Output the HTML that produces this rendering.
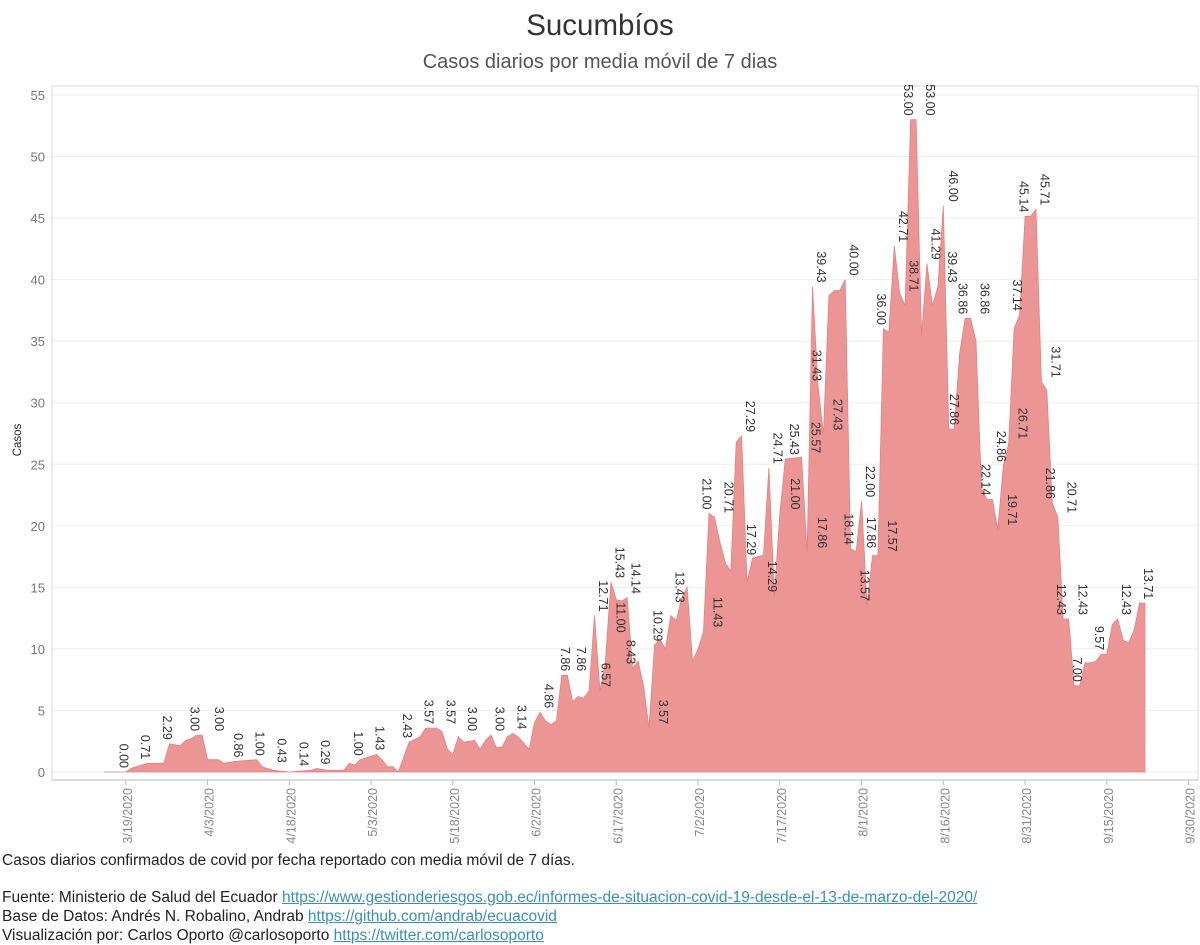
<!DOCTYPE html>
<html><head><meta charset="utf-8"><style>
body{margin:0;width:1200px;height:945px;background:#fff;font-family:"Liberation Sans",sans-serif;overflow:hidden;position:relative}
.t{position:absolute;left:0;width:1200px;text-align:center}
.note{position:absolute;left:2px;font-size:15.5px;color:#222;white-space:nowrap}
.note a{color:#3a8fb7;text-decoration:underline}
</style></head><body>
<div class="t" style="top:9px;font-size:29.5px;color:#333">Sucumbíos</div>
<div class="t" style="top:51px;font-size:20px;color:#555">Casos diarios por media móvil de 7 dias</div>
<svg id="c" width="1200" height="850" style="position:absolute;left:0;top:0"></svg>
<div class="note" style="top:852px">Casos diarios confirmados de covid por fecha reportado con media móvil de 7 días.</div>
<div class="note" style="top:889px">Fuente: Ministerio de Salud del Ecuador <a>https://www.gestionderiesgos.gob.ec/informes-de-situacion-covid-19-desde-el-13-de-marzo-del-2020/</a></div>
<div class="note" style="top:908px">Base de Datos: Andrés N. Robalino, Andrab <a>https://github.com/andrab/ecuacovid</a></div>
<div class="note" style="top:927px">Visualización por: Carlos Oporto @carlosoporto <a>https://twitter.com/carlosoporto</a></div>
<script>
// days since 3/15/2020
const days=[0,4,5,8,11,12,14,15,16,17,18,19,21,22,24,28,29,31,34,38,39,41,44,45,46,47,49,50,51,52,53,54,56,58,59,61,62,63,64,65,66,68,69,70,71,72,73,74,75,76,78,79,80,81,82,83,84,85,86,87,88,89,90,91,92,93,94,95,96,97,98,99,100,101,102,103,104,105,106,107,108,109,110,111,112,113,114,115,116,117,118,119,121,122,123,124,125,128,129,130,131,132,133,134,135,136,137,138,139,140,141,142,143,144,145,146,147,148,149,150,151,152,153,154,155,156,157,158,159,160,161,162,163,164,165,166,167,168,169,170,171,172,173,174,175,176,177,178,179,180,181,182,183,184,185,186,187,188,189,190,191];
const values=[0,0,0.3,0.71,0.71,2.29,2.14,2.57,2.71,3,3,1,1,0.71,0.86,1,0.43,0.14,0,0.14,0.29,0.14,0.14,0.71,0.57,1,1.29,1.43,1,0.43,0.43,0,2.43,2.86,3.57,3.57,3.29,1.86,1.43,2.86,2.43,2.57,1.86,2.57,3,2,2,2.86,3.14,2.86,1.86,4,4.86,4.14,3.86,4.14,7.86,7.86,5.71,6.14,6,6.57,12.71,6.57,9,15.43,14,13.9,14.14,8.43,9,7,3.57,10.29,10.8,10,12.7,12.3,14.14,15,9,10,11.43,21,20.71,18.7,17,16.3,26.8,27.29,15.43,17.4,17.6,24.71,14.29,21,25.43,25.57,17.86,39.43,31.43,27.43,38.7,39.1,39.1,40,18.14,17.9,22,13.57,17.57,17.57,36,35.7,42.71,38.9,37.9,53,53,35.5,41.29,37.9,39.43,46,27.86,27.86,34,36.86,36.86,35,23,22.14,22.14,19.71,24.86,26.71,36,37.14,45.14,45.14,45.71,31.71,31,21.86,20.71,12.43,12.43,7,7,8.86,8.86,9,9.57,9.57,12,12.43,10.7,10.5,11.5,13.71,13.71];
const labelDays=[2,6,10,15,19.5,23,27,31,35,39,45,49,54,58,62,66,71,75,80,83,86,90,90.5,93,93.2,96,95,100,101,104,111,109,113,117,117.2,122,121,125,125.2,129,129.2,130,130.2,133,135,136,141,139,139.2,138,143,145,147,146,150,151,154,154.2,156,154.4,160,160.2,163,165,166,167,167.2,171,173,172,176,174,178,177,181,186,190];
const labelTexts=["0.00","0.71","2.29","3.00","3.00","0.86","1.00","0.43","0.14","0.29","1.00","1.43","2.43","3.57","3.57","3.00","3.00","3.14","4.86","7.86","7.86","12.71","6.57","15.43","11.00","14.14","8.43","10.29","3.57","13.43","11.43","21.00","20.71","27.29","17.29","24.71","14.29","25.43","21.00","25.57","31.43","39.43","17.86","27.43","18.14","40.00","36.00","22.00","17.86","13.57","17.57","42.71","38.71","53.00","53.00","41.29","39.43","46.00","36.86","27.86","36.86","22.14","24.86","19.71","37.14","26.71","45.14","45.71","31.71","21.86","20.71","12.43","12.43","7.00","9.57","12.43","13.71"];
const yTicks=[0,5,10,15,20,25,30,35,40,45,50,55];
const xTickDays=[4,19,34,49,64,79,94,109,124,139,154,169,184,199];
const xTickLabels=["3/19/2020","4/3/2020","4/18/2020","5/3/2020","5/18/2020","6/2/2020","6/17/2020","7/2/2020","7/17/2020","8/1/2020","8/16/2020","8/31/2020","9/15/2020","9/30/2020"];

const svg=document.getElementById('c'),NS='http://www.w3.org/2000/svg';
const X0=52,X1=1198,Y0=86,YB=780;
const x=d=>104+d*5.45, y=v=>772-v*12.31;
function mk(t,a,p){const e=document.createElementNS(NS,t);for(const k in a)e.setAttribute(k,a[k]);(p||svg).appendChild(e);return e;}
yTicks.forEach(v=>{
  const g=mk('line',{x1:X0,x2:X1,y1:y(v),y2:y(v),stroke:'#eeeeee'});
  
  
  const t=mk('text',{x:45,y:y(v)+5,'text-anchor':'end','font-size':13,fill:'#777','font-family':'Liberation Sans'});
  t.textContent=v;
  
  
});
const fr=mk('rect',{x:X0,y:Y0,width:X1-X0,height:YB-Y0,fill:'none',stroke:'#d8d8d8'});


let d='M'+x(days[0])+','+y(0);
days.forEach((dd,i)=>{d+=' L'+x(dd).toFixed(1)+','+y(values[i]).toFixed(1);});
d+=' L'+x(days[days.length-1])+','+y(0)+' Z';
const ar=mk('path',{d:d,fill:'#eb9595',stroke:'#e48282','stroke-width':0.8});


const ax=mk('line',{x1:X0,x2:X1,y1:YB,y2:YB,stroke:'#bbb'});


labelDays.forEach((ld,i)=>{
  const v=parseFloat(labelTexts[i]);
  const px=x(ld),py=y(v)-4;
  const t=mk('text',{x:0,y:0,transform:`translate(${px+4.5},${py}) rotate(90)`,'text-anchor':'end','font-size':12.5,fill:'#333','font-family':'Liberation Sans'});
  t.textContent=labelTexts[i];
  
  
});
xTickDays.forEach((td,i)=>{
  const px=x(td);
  const tk=mk('line',{x1:px,x2:px,y1:YB,y2:YB+5,stroke:'#bbb'});
  
  
  const t=mk('text',{x:0,y:0,transform:`translate(${px+6},${YB+8}) rotate(-90)`,'text-anchor':'end','font-size':12.5,fill:'#888','font-family':'Liberation Sans'});
  t.textContent=xTickLabels[i];
  
  
});
const yt=mk('text',{x:0,y:0,transform:'translate(21,440) rotate(-90)','text-anchor':'middle','font-size':11.5,fill:'#222','font-family':'Liberation Sans'});
yt.textContent='Casos';


</script>
</body></html>
